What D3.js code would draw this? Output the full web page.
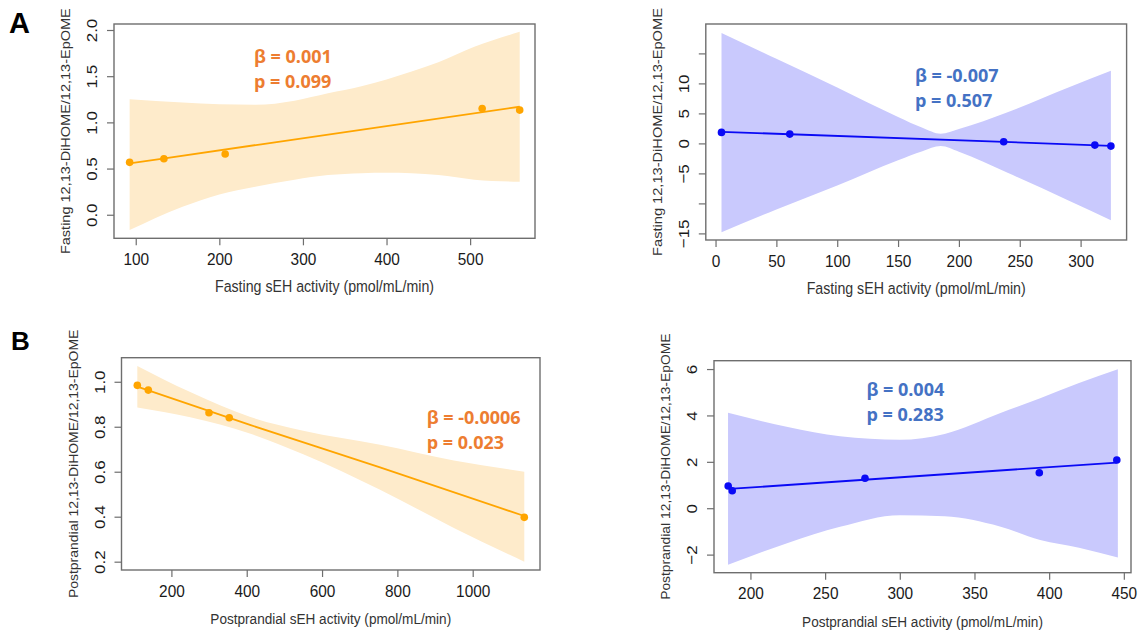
<!DOCTYPE html>
<html>
<head>
<meta charset="utf-8">
<script src="https://cdn.jsdelivr.net/npm/d3@7"></script>
<style>
  body { margin: 0; background: #fff; }
  svg { display: block; }
</style>
</head>
<body>
<div id="chart"></div>
<script>
// ---- values ----

// A, left: fasting (orange group)
const aLeftX = [92.7, 133.7, 207, 514.4, 559.3];
const aLeftY = [0.567, 0.606, 0.657, 1.151, 1.133];
const aLeftFitX = [92.7, 250, 400, 559.3];
const aLeftFitY = [0.556, 0.763, 0.96, 1.169];
const aLeftBandX = [92.7, 156, 200, 243, 290, 330, 370, 400, 430, 462, 505, 559.3];
const aLeftBandLo = [-0.166, 0.087, 0.22, 0.303, 0.38, 0.43, 0.45, 0.455, 0.45, 0.43, 0.38, 0.357];
const aLeftBandHi = [1.249, 1.215, 1.195, 1.19, 1.235, 1.314, 1.39, 1.465, 1.55, 1.65, 1.818, 1.98];

// A, right: fasting (blue group)
const aRightX = [4.9, 61, 236.8, 311.7, 324.9];
const aRightY = [1.83, 1.55, 0.27, -0.28, -0.45];
const aRightFitX = [4.9, 324.9];
const aRightFitY = [1.93, -0.4];
const aRightBandX = [4.9, 50, 100, 150, 170, 185, 200, 240, 290, 324.9];
const aRightBandLo = [-14.8, -11.0, -7.0, -2.8, -1.3, -0.45, -1.4, -4.9, -9.5, -12.8];
const aRightBandHi = [18.4, 14.1, 9.3, 4.4, 2.6, 1.6, 2.4, 5.2, 9.3, 12.1];

// B, left: postprandial (orange group)
const bLeftX = [109.5, 138.7, 299.8, 353.7, 1137];
const bLeftY = [0.984, 0.963, 0.862, 0.84, 0.397];
const bLeftFitX = [109.5, 408.6, 754, 1137];
const bLeftFitY = [0.978, 0.808, 0.619, 0.403];
const bLeftBandX = [109.5, 250, 408, 550, 754, 950, 1137];
const bLeftBandLo = [0.886, 0.842, 0.77, 0.678, 0.52, 0.35, 0.2];
const bLeftBandHi = [1.07, 0.954, 0.844, 0.782, 0.72, 0.65, 0.6];

// B, right: postprandial (blue group)
const bRightX = [185.1, 187.8, 276.7, 393.4, 445.3];
const bRightY = [0.96, 0.75, 1.29, 1.53, 2.08];
const bRightFitX = [185.8, 445.3];
const bRightFitY = [0.83, 1.97];
const bRightBandX = [185, 225, 260, 300, 330, 367, 394, 420, 446];
const bRightBandLo = [-2.44, -1.5, -0.8, -0.3, -0.35, -0.79, -1.37, -1.7, -2.13];
const bRightBandHi = [4.12, 3.5, 3.1, 2.95, 3.2, 4.09, 4.74, 5.4, 5.99];

// tick values
const aLeftXTicks = [100, 200, 300, 400, 500];
const aLeftYTicks = [0, 0.5, 1, 1.5, 2];
const aRightXTicks = [0, 50, 100, 150, 200, 250, 300];
const aRightYTicks = [-15, -10, -5, 0, 5, 10, 15];
const aRightYHidden = [-10, 15];   // R drops these labels (overlap)
const bLeftXTicks = [200, 400, 600, 800, 1000];
const bLeftYTicks = [0.2, 0.4, 0.6, 0.8, 1.0];
const bRightXTicks = [200, 250, 300, 350, 400, 450];
const bRightYTicks = [-2, 0, 2, 4, 6];

// annotation labels
const statLabels = [
  ['β = 0.001', 'p = 0.099'],
  ['β = -0.007', 'p = 0.507'],
  ['β = -0.0006', 'p = 0.023'],
  ['β = 0.004', 'p = 0.283']
];
const fastingX = 'Fasting sEH activity (pmol/mL/min)';
const fastingY = 'Fasting 12,13-DiHOME/12,13-EpOME';
const postX = 'Postprandial sEH activity (pmol/mL/min)';
const postY = 'Postprandial 12,13-DiHOME/12,13-EpOME';

// ---- styles ----
const ORANGE = '#FFA500', ORANGE_BAND = '#FEEBCB', ORANGE_TEXT = '#ED7D31';
const BLUE = '#0A0AF5', BLUE_BAND = '#C9C9FD', BLUE_TEXT = '#4472C4';
const AXIS = '#6e6e6e';
const STRETCH = 1.1;   // the source picture is slightly stretched vertically

const panels = [
  { box: {l: 114, r: 535, t: 24, b: 238.3}, xDomain: [74, 577.6], yDomain: [-0.255, 2.065],
    ptX: aLeftX, ptY: aLeftY, fitX: aLeftFitX, fitY: aLeftFitY,
    bandX: aLeftBandX, bandLo: aLeftBandLo, bandHi: aLeftBandHi,
    xTicks: aLeftXTicks, yTicks: aLeftYTicks, yFormat: d3.format('.1f'),
    color: ORANGE, band: ORANGE_BAND, textColor: ORANGE_TEXT, stat: statLabels[0], statPos: [254, 63.3],
    xTitle: fastingX, yTitle: fastingY, xTitleSize: 14.2, yTitleSize: 13.2 },
  { box: {l: 705.8, r: 1126.6, t: 24, b: 240}, xDomain: [-8, 337.8], yDomain: [-16.1, 19.9],
    ptX: aRightX, ptY: aRightY, fitX: aRightFitX, fitY: aRightFitY,
    bandX: aRightBandX, bandLo: aRightBandLo, bandHi: aRightBandHi,
    xTicks: aRightXTicks, yTicks: aRightYTicks,
    yFormat: d => aRightYHidden.includes(d) ? '' : d3.format('d')(d),
    color: BLUE, band: BLUE_BAND, textColor: BLUE_TEXT, stat: statLabels[1], statPos: [915, 81.7],
    xTitle: fastingX, yTitle: fastingY, xTitleSize: 14.2, yTitleSize: 13.3 },
  { box: {l: 121.5, r: 540, t: 357.7, b: 570}, xDomain: [67.5, 1178.7], yDomain: [0.163, 1.107],
    ptX: bLeftX, ptY: bLeftY, fitX: bLeftFitX, fitY: bLeftFitY,
    bandX: bLeftBandX, bandLo: bLeftBandLo, bandHi: bLeftBandHi,
    xTicks: bLeftXTicks, yTicks: bLeftYTicks, yFormat: d3.format('.1f'),
    color: ORANGE, band: ORANGE_BAND, textColor: ORANGE_TEXT, stat: statLabels[2], statPos: [426.7, 424.3],
    xTitle: postX, yTitle: postY, xTitleSize: 13.6, yTitleSize: 12.7 },
  { box: {l: 714, r: 1131, t: 360.7, b: 572.7}, xDomain: [175.6, 454.8], yDomain: [-2.78, 6.36],
    ptX: bRightX, ptY: bRightY, fitX: bRightFitX, fitY: bRightFitY,
    bandX: bRightBandX, bandLo: bRightBandLo, bandHi: bRightBandHi,
    xTicks: bRightXTicks, yTicks: bRightYTicks, yFormat: d3.format('d'),
    color: BLUE, band: BLUE_BAND, textColor: BLUE_TEXT, stat: statLabels[3], statPos: [866.4, 396],
    xTitle: postX, yTitle: postY, xTitleSize: 13.6, yTitleSize: 12.6 }
];

const svg = d3.select('#chart').append('svg')
  .attr('width', 1140)
  .attr('height', 631);

function drawPanel(p) {
  const x = d3.scaleLinear().domain(p.xDomain).range([p.box.l, p.box.r]);
  const y = d3.scaleLinear().domain(p.yDomain).range([p.box.b, p.box.t]);
  const g = svg.append('g');

  // confidence band
  const band = p.bandX.map((v, i) => ({x: v, lo: p.bandLo[i], hi: p.bandHi[i]}));
  g.append('path')
    .datum(band)
    .attr('fill', p.band)
    .attr('d', d3.area()
      .x(d => x(d.x))
      .y0(d => y(d.lo))
      .y1(d => y(d.hi))
      .curve(d3.curveMonotoneX));

  // fitted line
  const fit = p.fitX.map((v, i) => ({x: v, y: p.fitY[i]}));
  g.append('path')
    .datum(fit)
    .attr('fill', 'none')
    .attr('stroke', p.color)
    .attr('stroke-width', 1.8)
    .attr('d', d3.line().x(d => x(d.x)).y(d => y(d.y)).curve(d3.curveMonotoneX));

  // points
  const pts = p.ptX.map((v, i) => ({x: v, y: p.ptY[i]}));
  g.selectAll('circle')
    .data(pts)
    .join('circle')
      .attr('cx', d => x(d.x))
      .attr('cy', d => y(d.y))
      .attr('r', 3.8)
      .attr('fill', p.color);

  // frame
  g.append('rect')
    .attr('x', p.box.l)
    .attr('y', p.box.t)
    .attr('width', p.box.r - p.box.l)
    .attr('height', p.box.b - p.box.t)
    .attr('fill', 'none')
    .attr('stroke', AXIS)
    .attr('stroke-width', 1.4);

  // x axis
  const xa = g.append('g')
    .attr('transform', `translate(0,${p.box.b})`)
    .call(d3.axisBottom(x).tickValues(p.xTicks).tickSize(7).tickFormat(d3.format('d')));
  styleAxis(xa);
  xa.selectAll('text')
    .attr('y', 0).attr('dy', 0)
    .attr('transform', `translate(0,26.7) scale(1,${STRETCH})`);

  // y axis, labels rotated like R's default
  const ya = g.append('g')
    .attr('transform', `translate(${p.box.l},0)`)
    .call(d3.axisLeft(y).tickValues(p.yTicks).tickSize(7).tickFormat(p.yFormat));
  styleAxis(ya);
  ya.selectAll('text')
    .attr('x', 0).attr('dy', 0)
    .attr('text-anchor', 'middle')
    .attr('transform', `translate(-17,0) scale(1,${STRETCH}) rotate(-90)`);

  // axis titles
  g.append('text')
    .attr('transform', `translate(${(p.box.l + p.box.r) / 2},${p.box.b + 54}) scale(1,${STRETCH})`)
    .attr('text-anchor', 'middle')
    .attr('font-family', '"Liberation Sans", Arial, sans-serif')
    .attr('font-size', p.xTitleSize)
    .attr('fill', '#333')
    .text(p.xTitle);

  g.append('text')
    .attr('transform', `translate(${p.box.l - 44},${(p.box.t + p.box.b) / 2}) scale(1,${STRETCH}) rotate(-90)`)
    .attr('text-anchor', 'middle')
    .attr('font-family', '"Liberation Sans", Arial, sans-serif')
    .attr('font-size', p.yTitleSize)
    .attr('fill', '#333')
    .text(p.yTitle);

  // beta / p annotation
  const st = g.append('text')
    .attr('x', p.statPos[0])
    .attr('y', p.statPos[1])
    .attr('font-family', '"Open Sans", Lato, sans-serif')
    .attr('font-weight', 'bold')
    .attr('font-size', 18)
    .attr('fill', p.textColor);
  st.append('tspan').attr('x', p.statPos[0]).text(p.stat[0]);
  st.append('tspan').attr('x', p.statPos[0]).attr('dy', 25).text(p.stat[1]);
}

function styleAxis(a) {
  a.select('.domain').remove();
  a.attr('font-family', '"Liberation Sans", Arial, sans-serif')
    .attr('font-size', 15.4);
  a.selectAll('.tick line').attr('stroke', AXIS).attr('stroke-width', 1.2);
  a.selectAll('.tick text').attr('fill', '#1a1a1a');
}

panels.forEach(drawPanel);

// panel letters
svg.append('text')
  .attr('x', 9).attr('y', 33)
  .attr('font-family', '"Liberation Sans", Arial, sans-serif')
  .attr('font-weight', 'bold')
  .attr('font-size', 29)
  .text('A');
svg.append('text')
  .attr('x', 11).attr('y', 350)
  .attr('font-family', '"Liberation Sans", Arial, sans-serif')
  .attr('font-weight', 'bold')
  .attr('font-size', 26)
  .text('B');
</script>
</body>
</html>
